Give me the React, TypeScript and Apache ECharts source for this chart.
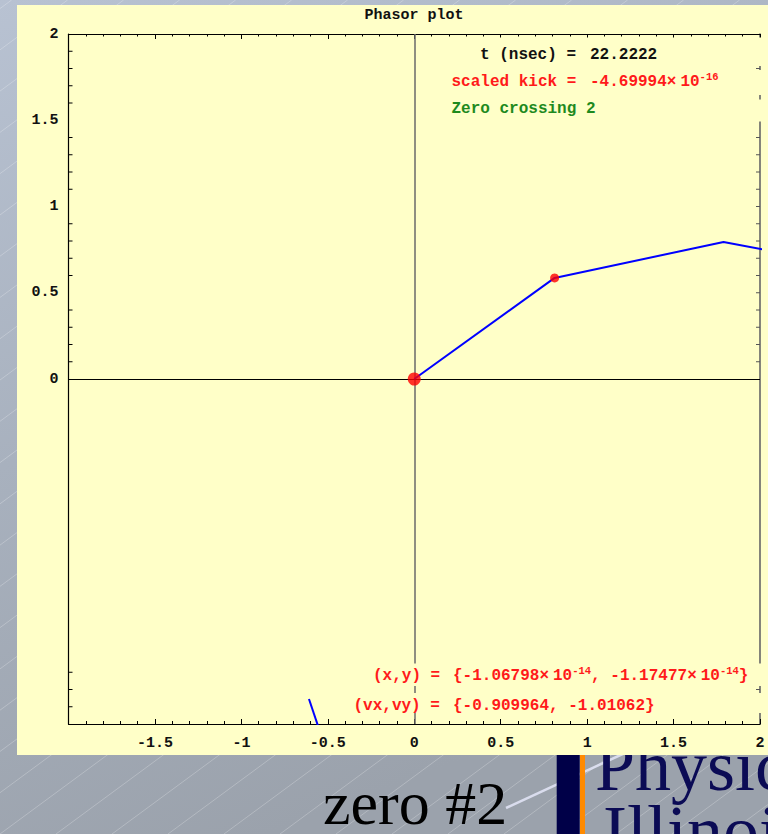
import { useEffect, useRef } from 'react';
import * as echarts from 'echarts';

// Plot window (data units)
const X_MIN = -2;
const X_MAX = 2;
const Y_MIN = -2;
const Y_MAX = 2;
const TICK_STEP = 0.5;

// Phasor chain leaving the origin, and the returning segment near the bottom
const phasorChain: [number, number][] = [
  [0, 0],
  [0.812, 0.586],
  [1.789, 0.794],
  [2.3, 0.697],
];
const returningChain: [number, number][] = [
  [-0.609, -1.855],
  [-0.5, -2.18],
];
const originPoint: [number, number][] = [[0, 0]];
const tipPoint: [number, number][] = [[0.812, 0.586]];

// Minor frame ticks on the vertical sides
const leftFrameTicks = [
  0.1, 0.2, 0.3, 0.4, 0.6, 0.7, 0.8, 0.9, 1.1, 1.2, 1.3, 1.4, 1.6, 1.7, 1.8, 1.9,
  -1.7, -1.8, -1.9,
];
const rightFrameTicks = [
  0.1, 0.2, 0.3, 0.4, 0.5, 0.6, 0.7, 0.8, 0.9, 1.0, 1.1, 1.2, 1.3, 1.4, 1.5, 1.6, 1.7, 1.8, 1.9,
  -1.7, -1.8, -1.9,
];

// Read-outs
const timeNs = '22.2222';
const scaledKick = { mantissa: '-4.69994', exponent: '-16' };
const crossingText = 'Zero crossing 2';
const positionXY = [
  { mantissa: '-1.06798', exponent: '-14' },
  { mantissa: '-1.17477', exponent: '-14' },
];
const velocityXY = ['-0.909964', '-1.01062'];

const MONO = '"Liberation Mono", "DejaVu Sans Mono", monospace';
const SERIF = '"Liberation Serif", "DejaVu Serif", serif';
const PANEL = '#ffffc8';

const richFor = (color: string) => ({
  n: { fontFamily: MONO, fontWeight: 'bold', fontSize: 16, lineHeight: 20, fill: color },
  t: { fontFamily: MONO, fontWeight: 'bold', fontSize: 16, lineHeight: 20, fill: color, padding: [0, 4, 0, 0] },
  s: { fontFamily: MONO, fontWeight: 'bold', fontSize: 10.5, lineHeight: 15, verticalAlign: 'top', fill: color },
});

const sci = (m: { mantissa: string; exponent: string }) =>
  `{n|${m.mantissa}}{t|×}{n|10}{s|${m.exponent}}`;

const monoText = (x: number, y: number, text: string, color: string, z = 60) => ({
  type: 'text',
  x,
  y,
  z,
  silent: true,
  style: {
    text,
    fill: color,
    fontFamily: MONO,
    fontWeight: 'bold',
    fontSize: 16,
    align: 'left',
    verticalAlign: 'middle',
  },
});

const richText = (x: number, y: number, text: string, color: string) => ({
  type: 'text',
  x,
  y,
  z: 60,
  silent: true,
  style: {
    text,
    fill: color,
    fontFamily: MONO,
    fontWeight: 'bold',
    fontSize: 16,
    lineHeight: 20,
    align: 'left',
    verticalAlign: 'middle',
    rich: richFor(color),
  },
});

const cover = (x: number, y: number, width: number, height: number) => ({
  type: 'rect',
  z: 55,
  silent: true,
  shape: { x, y, width, height },
  style: { fill: PANEL },
});

// Serif slide text placed by its baseline
const serifText = (x: number, baseline: number, text: string, size: number, color: string) => ({
  type: 'text',
  z: -15,
  silent: true,
  x,
  y: baseline - size * 0.4,
  style: {
    text,
    fill: color,
    fontFamily: SERIF,
    fontSize: size,
    align: 'left',
    verticalAlign: 'middle',
  },
});

function slideStripes() {
  const out: any[] = [];
  const run = 834 / 0.737;
  for (let k = -22; k < 16; k++) {
    const x0 = k * 56;
    out.push({
      type: 'line',
      z: -20,
      silent: true,
      shape: { x1: x0, y1: 834, x2: x0 + run, y2: 0 },
      style: { stroke: 'rgba(255,255,255,0.3)', lineWidth: 0.8 },
    });
  }
  return out;
}

const frameTickSeries = (values: number[], side: 'left' | 'right') => ({
  type: 'custom',
  silent: true,
  z: 4,
  clip: false,
  data: values.map((v) => [side === 'left' ? X_MIN : X_MAX, v]),
  encode: { x: 0, y: 1 },
  renderItem: (_params: any, api: any) => {
    const p = api.coord([api.value(0), api.value(1)]);
    const dir = side === 'left' ? 1 : -1;
    return {
      type: 'line',
      shape: { x1: p[0], y1: p[1], x2: p[0] + dir * 4, y2: p[1] },
      style: { stroke: side === 'left' ? '#000' : '#555', lineWidth: 1 },
    };
  },
});

export default function App() {
  const ref = useRef<HTMLDivElement>(null);

  useEffect(() => {
    if (!ref.current) return;
    const chart = echarts.init(ref.current, undefined, { renderer: 'svg' });

    const tickLabel = {
      fontFamily: MONO,
      fontWeight: 'bold' as const,
      fontSize: 15,
      color: '#111',
    };

    const option: any = {
      animation: false,
      backgroundColor: {
        type: 'linear',
        x: 0,
        y: 0,
        x2: 0.35,
        y2: 1,
        colorStops: [
          { offset: 0, color: '#b8c2d2' },
          { offset: 0.5, color: '#a8b1be' },
          { offset: 1, color: '#9ba2ac' },
        ],
      },
      grid: { left: 68.5, right: 8, top: 34, bottom: 110, containLabel: false },
      xAxis: [
        {
          type: 'value',
          position: 'bottom',
          min: X_MIN,
          max: X_MAX,
          interval: TICK_STEP,
          axisLine: { show: true, onZero: false, lineStyle: { color: '#000', width: 1.2 } },
          axisTick: { show: true, inside: true, length: 5, lineStyle: { color: '#000' } },
          minorTick: { show: true, splitNumber: 5, length: 3, lineStyle: { color: '#000' } },
          splitLine: { show: false },
          axisLabel: {
            ...tickLabel,
            margin: 12,
            formatter: (v: number) => (v === X_MIN ? '' : String(v)),
          },
        },
        {
          type: 'value',
          position: 'top',
          min: X_MIN,
          max: X_MAX,
          interval: TICK_STEP,
          axisLine: { show: true, onZero: false, lineStyle: { color: '#000', width: 1.2 } },
          axisTick: { show: true, inside: true, length: 5, lineStyle: { color: '#000' } },
          minorTick: { show: true, splitNumber: 5, length: 2.5, lineStyle: { color: '#000' } },
          splitLine: { show: false },
          axisLabel: { show: false },
        },
      ],
      yAxis: [
        {
          type: 'value',
          position: 'left',
          min: Y_MIN,
          max: Y_MAX,
          interval: TICK_STEP,
          axisLine: { show: true, onZero: false, lineStyle: { color: '#000', width: 1.2 } },
          axisTick: { show: false },
          minorTick: { show: false },
          splitLine: { show: false },
          axisLabel: {
            ...tickLabel,
            margin: 10,
            formatter: (v: number) => (v < 0 ? '' : String(v)),
          },
        },
        {
          type: 'value',
          position: 'right',
          min: Y_MIN,
          max: Y_MAX,
          interval: TICK_STEP,
          axisLine: { show: true, onZero: false, lineStyle: { color: '#666', width: 1.6 } },
          axisTick: { show: false },
          minorTick: { show: false },
          splitLine: { show: false },
          axisLabel: { show: false },
        },
      ],
      series: [
        {
          ...frameTickSeries(leftFrameTicks, 'left'),
          z: 1,
          markLine: {
            silent: true,
            symbol: 'none',
            animation: false,
            label: { show: false },
            data: [
              { xAxis: 0, lineStyle: { color: '#6a6a6a', width: 1.5, type: 'solid' } },
              { yAxis: 0, lineStyle: { color: '#000', width: 1, type: 'solid' } },
            ],
          },
        },
        frameTickSeries(rightFrameTicks, 'right'),
        {
          type: 'line',
          data: phasorChain,
          symbol: 'none',
          clip: true,
          z: 5,
          lineStyle: { color: '#0000ff', width: 2 },
        },
        {
          type: 'line',
          data: returningChain,
          symbol: 'none',
          clip: true,
          z: 5,
          lineStyle: { color: '#0000ff', width: 2 },
        },
        {
          type: 'scatter',
          data: originPoint,
          symbol: 'circle',
          symbolSize: 13,
          z: 6,
          itemStyle: { color: '#ff0000' },
        },
        {
          type: 'scatter',
          data: tipPoint,
          symbol: 'circle',
          symbolSize: 9,
          z: 6,
          itemStyle: { color: '#ff0000' },
        },
      ],
      graphic: [
        ...slideStripes(),
        // light streak behind the logo
        {
          type: 'line',
          z: -18,
          silent: true,
          shape: { x1: 506, y1: 808, x2: 640, y2: 746 },
          style: { stroke: 'rgba(228,230,248,0.85)', lineWidth: 2.5 },
        },
        // department logo, partly hidden under the panel
        {
          type: 'rect',
          z: -15,
          silent: true,
          shape: { x: 556.7, y: 740, width: 23, height: 100 },
          style: { fill: '#000048' },
        },
        {
          type: 'rect',
          z: -15,
          silent: true,
          shape: { x: 580, y: 740, width: 5, height: 100 },
          style: { fill: '#ff8a00' },
        },
        serifText(595, 795, 'Physics', 72, '#0b0b55'),
        serifText(603, 860, 'Illinois', 72, '#0b0b55'),
        serifText(323, 828, 'zero #2', 62, '#000'),
        // plot panel
        {
          type: 'rect',
          z: -10,
          silent: true,
          shape: { x: 17, y: 5, width: 760, height: 750 },
          style: { fill: PANEL },
        },
        {
          type: 'text',
          z: 60,
          silent: true,
          x: 414,
          y: 15,
          style: {
            text: 'Phasor plot',
            fill: '#111',
            fontFamily: MONO,
            fontWeight: 'bold',
            fontSize: 15,
            align: 'center',
            verticalAlign: 'middle',
          },
        },
        // read-out boxes
        cover(470, 37.5, 300, 28.5),
        cover(445, 70, 325, 25),
        cover(445, 99.5, 325, 22),
        cover(366, 663.5, 404, 22.5),
        cover(346, 693, 424, 20),
        monoText(480, 55, 't (nsec) =', '#111'),
        monoText(590, 55, timeNs, '#111'),
        monoText(451.5, 81.5, 'scaled kick =', '#ff1a1a'),
        richText(590, 81.5, sci(scaledKick), '#ff1a1a'),
        monoText(451.5, 108.5, crossingText, '#1e8a1e'),
        monoText(373, 675.5, '(x,y) =', '#ff1a1a'),
        richText(453, 675.5, `{${sci(positionXY[0])}, ${sci(positionXY[1])}}`, '#ff1a1a'),
        monoText(353.5, 706, '(vx,vy) =', '#ff1a1a'),
        monoText(453, 706, `{${velocityXY[0]}, ${velocityXY[1]}}`, '#ff1a1a'),
      ],
    };

    chart.setOption(option);
    return () => chart.dispose();
  }, []);

  return (
    <div
      ref={ref}
      style={{ position: 'absolute', left: 0, top: 0, width: 768, height: 834 }}
    />
  );
}
